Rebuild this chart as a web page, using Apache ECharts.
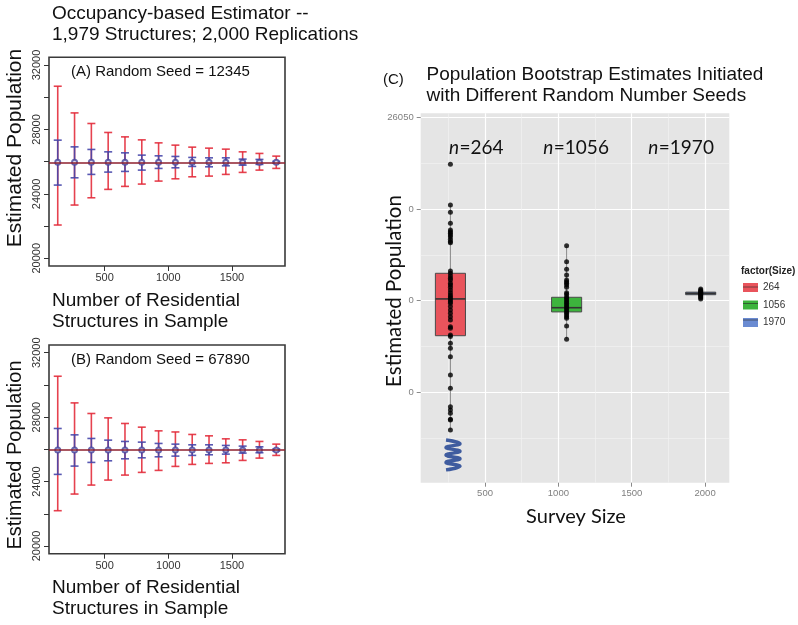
<!DOCTYPE html>
<html><head><meta charset="utf-8">
<script src="https://cdn.jsdelivr.net/npm/echarts@6/dist/echarts.min.js"></script>
<style>html,body{margin:0;padding:0;background:#fff}#c{width:798px;height:625px}</style>
</head><body><div id="c"></div>
<script>
// ---------- Panels A & B data ----------
const sampleSizes = [132, 264, 396, 528, 660, 792, 924, 1056, 1188, 1320, 1452, 1584, 1716, 1848];
const centersA = [25960, 25960, 25962, 25960, 25958, 25960, 25960, 25958, 25960, 25960, 25960, 25960, 25960, 25960];
const redLoA  = [22065, 23305, 23757, 24278, 24464, 24607, 24793, 24935, 25059, 25103, 25208, 25332, 25475, 25580];
const redHiA  = [30683, 29027, 28370, 27812, 27539, 27353, 27167, 27025, 26901, 26839, 26777, 26609, 26510, 26343];
const blueLoA = [24545, 24997, 25208, 25351, 25394, 25475, 25580, 25617, 25704, 25679, 25741, 25785, 25828, 25900];
const blueHiA = [27335, 26919, 26758, 26609, 26547, 26405, 26361, 26324, 26262, 26237, 26237, 26157, 26138, 26020];
const centersB = [25960, 25958, 25960, 25960, 25960, 25960, 25960, 25960, 25958, 25960, 25960, 25960, 25960, 25960];
const redLoB  = [22190, 23224, 23782, 24092, 24402, 24569, 24693, 24941, 25065, 25127, 25165, 25313, 25456, 25623];
const redHiB  = [30540, 28885, 28227, 27955, 27607, 27378, 27149, 27080, 26925, 26839, 26653, 26591, 26491, 26324];
const blueLoB = [24445, 24960, 25189, 25289, 25413, 25475, 25537, 25580, 25625, 25663, 25704, 25766, 25790, 25900];
const blueHiB = [27296, 26901, 26677, 26572, 26491, 26448, 26367, 26324, 26281, 26281, 26243, 26200, 26157, 26020];
const trueMean = 25960;
const xTicksAB = [500, 1000, 1500];
const yTicksAB = [20000, 22000, 24000, 26000, 28000, 30000, 32000];
const yLabelsAB = [20000, 24000, 28000, 32000];

// ---------- Panel C data ----------
const surveySizes = [264, 1056, 1970];
const sizeNames = ['264', '1056', '1970'];
const boxMin = [25879.4, 25929.0, 25951.0];
const boxQ1  = [25930.9, 25943.9, 25953.3];
const boxMed = [25951.0, 25946.2, 25954.0];
const boxQ3  = [25965.0, 25951.9, 25954.7];
const boxMax = [26002.3, 25980.1, 25956.4];
const pts264 = [26024.5, 26002.3, 25998.3, 25992.3, 25988.7, 25987.7, 25986.9, 25985.9, 25985.0, 25983.6, 25982.3, 25981.7,
  25966.3, 25965.0, 25963.5, 25962.3, 25961.3, 25959.5, 25958.6, 25957.4, 25955.9, 25954.4, 25953.1, 25952.2, 25951.3,
  25950.4, 25949.5, 25948.6, 25946.8, 25945.0, 25943.2, 25941.3, 25939.5, 25935.8, 25935.0, 25931.3, 25930.4, 25926.8,
  25924.0, 25919.4, 25909.5, 25902.2, 25892.1, 25890.3, 25888.5, 25885.3, 25884.9, 25879.4];
const pts1056 = [25980.1, 25971.3, 25967.2, 25964.1, 25961.3, 25960.4, 25959.5, 25958.6, 25957.4, 25954.4, 25953.5, 25952.2,
  25951.3, 25950.4, 25949.5, 25948.6, 25947.7, 25946.8, 25945.9, 25945.0, 25944.0, 25943.2, 25942.2, 25941.3, 25940.4,
  25936.2, 25929.0];
const pts1970 = [25956.4, 25955.8, 25955.2, 25954.6, 25954.2, 25953.8, 25953.4, 25952.8, 25952.2, 25951.6, 25951.0];
const xTicksC = [500, 1000, 1500, 2000];
const xMinorC = [250, 750, 1250, 1750];
const yTicksC = [25900, 25950, 26000, 26050];
const yTickLabelsC = ['0', '0', '0', '26050'];
const yMinorC = [25875, 25925, 25975, 26025];
const squiggleX = [234, 329, 234, 329, 234, 329, 234, 329, 234];
const squiggleY = [25873.9, 25871.9, 25869.8, 25867.8, 25865.7, 25863.7, 25861.7, 25859.6, 25857.6];
const boxColors = ['#e9545c', '#3db43d', '#6a8bd2'];

// ---------- helpers ----------
const RF = 'Liberation Sans';
const plain = v => String(v);
function errRender(color, capHalf, lw) {
  return function (params, api) {
    const x = api.value(0), lo = api.value(1), hi = api.value(2);
    const a = api.coord([x, hi]), b = api.coord([x, lo]);
    const style = { stroke: color, lineWidth: lw };
    return { type: 'group', children: [
      { type: 'line', shape: { x1: a[0], y1: a[1], x2: b[0], y2: b[1] }, style },
      { type: 'line', shape: { x1: a[0] - capHalf, y1: a[1], x2: a[0] + capHalf, y2: a[1] }, style },
      { type: 'line', shape: { x1: b[0] - capHalf, y1: b[1], x2: b[0] + capHalf, y2: b[1] }, style }
    ]};
  };
}
const BOX_W = 205;
function boxRender(params, api) {
  const x = api.value(0);
  const pMin = api.coord([x, api.value(1)]), pQ1 = api.coord([x, api.value(2)]), pMed = api.coord([x, api.value(3)]);
  const pQ3 = api.coord([x, api.value(4)]), pMax = api.coord([x, api.value(5)]);
  const w = api.size([BOX_W, 0])[0];
  const color = api.visual('color');
  return { type: 'group', children: [
    { type: 'line', shape: { x1: pMin[0], y1: pMin[1], x2: pMax[0], y2: pMax[1] }, style: { stroke: '#8a8a8a', lineWidth: 1 } },
    { type: 'rect', shape: { x: pQ3[0] - w / 2, y: pQ3[1], width: w, height: Math.max(pQ1[1] - pQ3[1], 1.5) },
      style: { fill: color, stroke: '#4a4a4a', lineWidth: 1 } },
    { type: 'line', shape: { x1: pMed[0] - w / 2, y1: pMed[1], x2: pMed[0] + w / 2, y2: pMed[1] }, style: { stroke: '#333', lineWidth: 1.6 } }
  ]};
}

function panelAxes(gi) {
  return {
    x: { gridIndex: gi, type: 'value', min: 63.36, max: 1916.64,
      axisLine: { show: false, onZero: false }, splitLine: { show: false },
      axisTick: { show: true, customValues: xTicksAB, length: 5, lineStyle: { color: '#333', width: 1 } },
      axisLabel: { customValues: xTicksAB, formatter: plain, margin: 6.5, fontSize: 11, color: '#333', fontFamily: RF } },
    y: { gridIndex: gi, type: 'value', min: 19520, max: 32480,
      axisLine: { show: false, onZero: false }, splitLine: { show: false },
      axisTick: { show: true, customValues: yTicksAB, length: 5, lineStyle: { color: '#333', width: 1 } },
      axisLabel: { customValues: yLabelsAB, formatter: plain, rotate: 90, margin: 7, fontSize: 11, color: '#333', fontFamily: RF } }
  };
}
const axA = panelAxes(0), axB = panelAxes(1);

function panelSeries(idx, centers, rLo, rHi, bLo, bHi) {
  return [
    { type: 'custom', xAxisIndex: idx, yAxisIndex: idx, renderItem: errRender('rgba(226,40,55,0.88)', 4, 1.6),
      data: sampleSizes.map((x, i) => [x, rLo[i], rHi[i]]), encode: { x: 0, y: [1, 2] }, silent: true, z: 2 },
    { type: 'custom', xAxisIndex: idx, yAxisIndex: idx, renderItem: errRender('rgba(70,70,170,0.9)', 4, 1.6),
      data: sampleSizes.map((x, i) => [x, bLo[i], bHi[i]]), encode: { x: 0, y: [1, 2] }, silent: true, z: 3 },
    { type: 'scatter', xAxisIndex: idx, yAxisIndex: idx, symbol: 'emptyCircle', symbolSize: 5,
      itemStyle: { color: '#44449c', borderWidth: 1.2 }, data: sampleSizes.map((x, i) => [x, centers[i]]), silent: true, z: 4,
      markLine: { silent: true, symbol: 'none', label: { show: false }, animation: false,
        lineStyle: { color: '#8e1f2e', width: 1.6, type: 'solid' }, data: [{ yAxis: trueMean }] } }
  ];
}

const gridStyleAB = { show: true, borderColor: '#3a3a3a', borderWidth: 1.6, backgroundColor: 'transparent', outerBoundsMode: 'none' };
const cLabel = { fontSize: 9.5, color: '#7f7f7f', fontFamily: RF };
// "n=..." annotations: italic n right-aligned at split, "=value" left-aligned from split
function nLabel(splitX, s) {
  return [
    { type: 'text', z: 100, x: splitX, y: 148, style: { text: 'n', font: 'italic 19px Lato', fill: '#111', align: 'right', verticalAlign: 'middle' } },
    { type: 'text', z: 100, x: splitX + 0.5, y: 148, style: { text: '=' + s, font: '19px Lato', fill: '#111', align: 'left', verticalAlign: 'middle' } }
  ];
}
function legendMid(y) {
  return { type: 'line', shape: { x1: 743, y1: y, x2: 758, y2: y }, style: { stroke: 'rgba(40,40,40,0.6)', lineWidth: 1 }, z: 100 };
}

const option = {
  animation: false,
  backgroundColor: '#ffffff',
  grid: [
    Object.assign({ left: 49, top: 57.3, width: 236, height: 208.7 }, gridStyleAB),
    Object.assign({ left: 49, top: 345, width: 236, height: 208.7 }, gridStyleAB),
    { left: 420.7, top: 113.3, width: 308.6, height: 369.4, show: true, backgroundColor: '#e5e5e5', borderWidth: 0, outerBoundsMode: 'none' }
  ],
  xAxis: [axA.x, axB.x,
    { gridIndex: 2, type: 'value', min: 61.4, max: 2165, axisLine: { show: false, onZero: false },
      axisTick: { show: true, customValues: xTicksC, length: 4, lineStyle: { color: '#8a8a8a' } },
      axisLabel: Object.assign({ customValues: xTicksC, formatter: plain, margin: 6 }, cLabel),
      splitLine: { show: true, lineStyle: { color: '#ffffff', width: 1.2 } } },
    { gridIndex: 2, type: 'value', min: 61.4, max: 2165, axisLine: { show: false, onZero: false },
      axisTick: { show: false, customValues: xMinorC }, axisLabel: { show: false },
      splitLine: { show: true, lineStyle: { color: '#f3f3f3', width: 0.6 } } }
  ],
  yAxis: [axA.y, axB.y,
    { gridIndex: 2, type: 'value', min: 25850.6, max: 26052.4, axisLine: { show: false, onZero: false },
      axisTick: { show: true, customValues: yTicksC, length: 4, lineStyle: { color: '#8a8a8a' } },
      axisLabel: Object.assign({ customValues: yTicksC, margin: 7,
        formatter: v => yTickLabelsC[yTicksC.indexOf(v)] }, cLabel),
      splitLine: { show: true, lineStyle: { color: '#ffffff', width: 1.2 } } },
    { gridIndex: 2, type: 'value', min: 25850.6, max: 26052.4, axisLine: { show: false, onZero: false },
      axisTick: { show: false, customValues: yMinorC }, axisLabel: { show: false },
      splitLine: { show: true, lineStyle: { color: '#f3f3f3', width: 0.6 } } }
  ],
  legend: { data: sizeNames, orient: 'vertical', left: 743, top: 282.5, itemWidth: 15, itemHeight: 9, itemGap: 7.5,
    icon: 'rect', padding: 0, selectedMode: false, textStyle: { fontSize: 10, color: '#333', fontFamily: RF } },
  series: [
    ...panelSeries(0, centersA, redLoA, redHiA, blueLoA, blueHiA),
    ...panelSeries(1, centersB, redLoB, redHiB, blueLoB, blueHiB),
    ...surveySizes.map((s, i) => ({
      type: 'custom', name: sizeNames[i], xAxisIndex: 2, yAxisIndex: 2, renderItem: boxRender,
      itemStyle: { color: boxColors[i] }, encode: { x: 0, y: [1, 5] }, silent: true, z: 2,
      data: [[s, boxMin[i], boxQ1[i], boxMed[i], boxQ3[i], boxMax[i]]]
    })),
    { type: 'scatter', xAxisIndex: 2, yAxisIndex: 2, symbolSize: 5, itemStyle: { color: '#000' }, silent: true, z: 5,
      data: [...pts264.map(v => [surveySizes[0], v]), ...pts1056.map(v => [surveySizes[1], v]), ...pts1970.map(v => [surveySizes[2], v])] },
    { type: 'line', xAxisIndex: 2, yAxisIndex: 2, smooth: 0.5, symbol: 'none', silent: true, z: 6,
      lineStyle: { color: '#3f5c9f', width: 3.5 }, data: squiggleX.map((x, i) => [x, squiggleY[i]]) }
  ],
  graphic: [
    { type: 'text', x: 52, y: 13.5, style: { text: 'Occupancy-based Estimator --', font: '19px "Liberation Sans"', fill: '#111', verticalAlign: 'middle' } },
    { type: 'text', x: 52, y: 35, style: { text: '1,979 Structures; 2,000 Replications', font: '19px "Liberation Sans"', fill: '#111', verticalAlign: 'middle' } },
    { type: 'text', x: 71, y: 72, style: { text: '(A) Random Seed = 12345', font: '15px "Liberation Sans"', fill: '#111', verticalAlign: 'middle' } },
    { type: 'text', x: 71, y: 360, style: { text: '(B) Random Seed = 67890', font: '15px "Liberation Sans"', fill: '#111', verticalAlign: 'middle' } },
    { type: 'text', x: 15, y: 148, rotation: Math.PI / 2, style: { text: 'Estimated Population', font: '21px "Liberation Sans"', fill: '#111', align: 'center', verticalAlign: 'middle' } },
    { type: 'text', x: 15, y: 455, rotation: Math.PI / 2, style: { text: 'Estimated Population', font: '20px "Liberation Sans"', fill: '#111', align: 'center', verticalAlign: 'middle' } },
    { type: 'text', x: 52, y: 301, style: { text: 'Number of Residential', font: '19px "Liberation Sans"', fill: '#111', verticalAlign: 'middle' } },
    { type: 'text', x: 52, y: 322, style: { text: 'Structures in Sample', font: '19px "Liberation Sans"', fill: '#111', verticalAlign: 'middle' } },
    { type: 'text', x: 52, y: 588, style: { text: 'Number of Residential', font: '19px "Liberation Sans"', fill: '#111', verticalAlign: 'middle' } },
    { type: 'text', x: 52, y: 609, style: { text: 'Structures in Sample', font: '19px "Liberation Sans"', fill: '#111', verticalAlign: 'middle' } },
    { type: 'text', x: 383, y: 80, style: { text: '(C)', font: '15px "Liberation Sans"', fill: '#111', verticalAlign: 'middle' } },
    { type: 'text', x: 426.5, y: 74.5, style: { text: 'Population Bootstrap Estimates Initiated', font: '19px "Liberation Sans"', fill: '#111', verticalAlign: 'middle' } },
    { type: 'text', x: 426.5, y: 96, style: { text: 'with Different Random Number Seeds', font: '19px "Liberation Sans"', fill: '#111', verticalAlign: 'middle' } },
    ...nLabel(459, '264'), ...nLabel(553.3, '1056'), ...nLabel(658.3, '1970'),
    { type: 'text', x: 394, y: 291, rotation: Math.PI / 2, style: { text: 'Estimated Population', font: '20.5px Lato', fill: '#111', align: 'center', verticalAlign: 'middle' } },
    { type: 'text', x: 576, y: 516.5, style: { text: 'Survey Size', font: '20px Lato', fill: '#111', align: 'center', verticalAlign: 'middle' } },
    { type: 'text', x: 741, y: 271.5, style: { text: 'factor(Size)', font: 'bold 10px "Liberation Sans"', fill: '#222', verticalAlign: 'middle' } },
    legendMid(287), legendMid(303.5), legendMid(320)
  ]
};
const chart = echarts.init(document.getElementById('c'), null, { renderer: 'canvas' });
chart.setOption(option);
</script></body></html>
